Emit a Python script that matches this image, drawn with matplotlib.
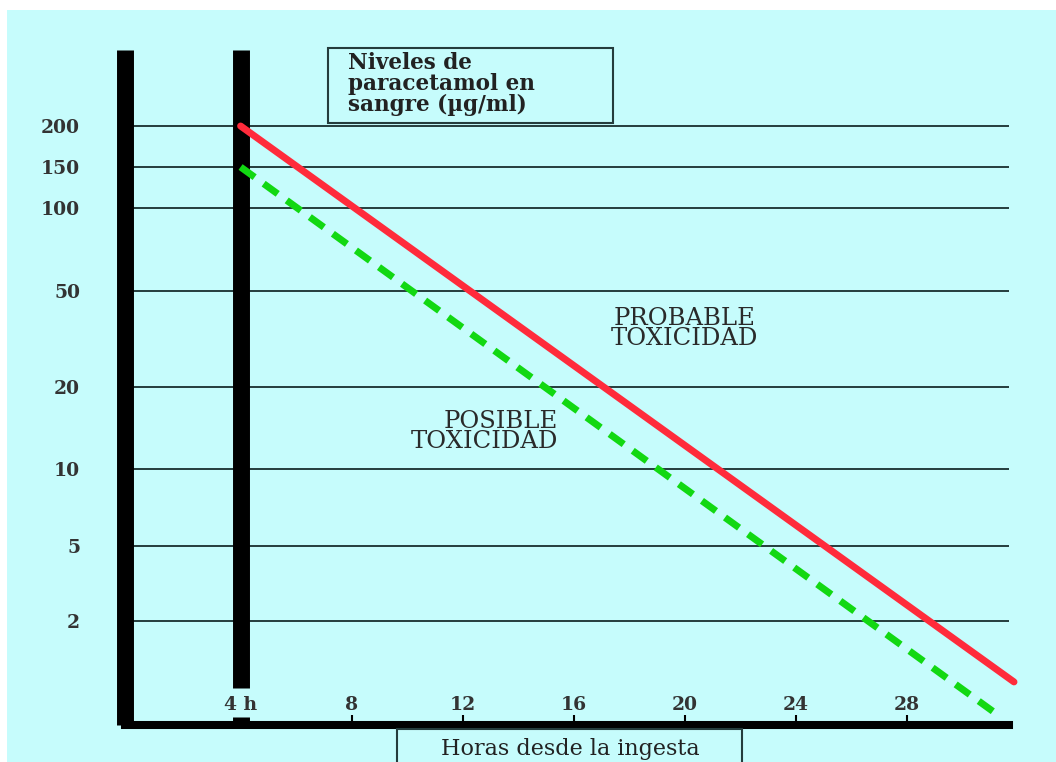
import numpy as np
import matplotlib.pyplot as plt
from matplotlib.patches import Rectangle
from matplotlib.ticker import NullLocator

plt.rcParams['font.family'] = ['DejaVu Serif']

# escala vertical del nomograma (esquematica, no es log puro)
niveles = [2, 5, 10, 20, 50, 100, 150, 200]
etiquetas_y = ['2', '5', '10', '20', '50', '100', '150', '200']
niveles_alto = [104, 179, 256, 338, 434, 517, 558, 599]   # altura (px) sobre el eje x

horas = [4, 8, 12, 16, 20, 24, 28]
etiquetas_x = ['4 h', '8', '12', '16', '20', '24', '28']

# lineas del nomograma
horas_prob = [4, 31.85]
nivel_prob = [200, 0.95]
horas_pos = [4, 31.3]
nivel_pos = [150, 0.63]

W, H = 1056, 762
cian = '#c6fcfc'
oscuro = '#243c3c'

lv = np.log10(niveles)
hv = np.array(niveles_alto, float)
s_lo = (hv[1] - hv[0]) / (lv[1] - lv[0])
s_hi = (hv[-1] - hv[-2]) / (lv[-1] - lv[-2])


def fwd(v):
    x = np.log10(np.maximum(np.asarray(v, float), 1e-9))
    y = np.interp(x, lv, hv)
    y = np.where(x < lv[0], hv[0] + (x - lv[0]) * s_lo, y)
    y = np.where(x > lv[-1], hv[-1] + (x - lv[-1]) * s_hi, y)
    return y


def inv(y):
    y = np.asarray(y, float)
    x = np.interp(y, hv, lv)
    x = np.where(y < hv[0], lv[0] + (y - hv[0]) / s_lo, x)
    x = np.where(y > hv[-1], lv[-1] + (y - hv[-1]) / s_hi, x)
    return 10 ** x


def fx(px):
    return px / W


def fy(py):
    return 1 - py / H


fig = plt.figure(figsize=(W / 100, H / 100), dpi=100, facecolor='white')
fig.patches.append(Rectangle((fx(7), 0), 1 - fx(7), fy(10), transform=fig.transFigure,
                             facecolor=cian, edgecolor='none', zorder=-10))

ax = fig.add_axes([fx(124.5), fy(725), (1009 - 124.5) / W, (725 - 50) / H])
ax.patch.set_visible(False)

ax.set_yscale('function', functions=(fwd, inv))
ax.set_ylim(float(inv(0)), float(inv(675)))
ax.set_xlim(-0.18, 31.67)

ax.spines['top'].set_visible(False)
ax.spines['right'].set_visible(False)
ax.spines['left'].set_linewidth(12.2)
ax.spines['left'].set_capstyle('butt')
ax.spines['bottom'].set_linewidth(5.8)
ax.spines['bottom'].set_capstyle('projecting')

ax.set_yticks(niveles, etiquetas_y)
ax.yaxis.set_minor_locator(NullLocator())
ax.tick_params(axis='y', length=0, pad=32, labelsize=13.5, labelcolor='#333333')
ax.set_xticks(horas, etiquetas_x)
ax.xaxis.set_minor_locator(NullLocator())
ax.tick_params(axis='x', direction='in', length=7, width=1.5, pad=-21,
               labelsize=13.5, labelcolor='#333333')
t0 = ax.xaxis.get_major_ticks()[0]
t0.tick1line.set_markeredgewidth(12.2)
t0.tick1line.set_markersize(5.5)
for lab in ax.get_xticklabels() + ax.get_yticklabels():
    lab.set_fontweight('bold')

ax.grid(axis='y', color=oscuro, lw=1.4)
ax.set_axisbelow(True)

# barra vertical de las 4 h
ax.axvline(4, ymin=37 / 675, ymax=1, color='black', lw=12.2, solid_capstyle='butt', zorder=2)

ax.plot(horas_prob, nivel_prob, color='#ff2b3b', lw=5, solid_capstyle='round',
        clip_on=False, zorder=4)
ax.plot(horas_pos, nivel_pos, color='#12d812', lw=5, ls=(0, (2.5, 1.6)),
        clip_on=False, zorder=3)

ax.text(20, 35, 'PROBABLE\nTOXICIDAD', ha='center', va='center', fontsize=17.5,
        linespacing=0.85, color='#2a2a2a', multialignment='center')
ax.text(15.43, 13.7, 'POSIBLE\nTOXICIDAD', ha='right', va='center', fontsize=17.5,
        linespacing=0.85, color='#2a2a2a', multialignment='right')

# recuadro del titulo
fig.patches.append(Rectangle((fx(328), fy(123)), (613 - 328) / W, (123 - 48) / H,
                             transform=fig.transFigure, facecolor=cian,
                             edgecolor=oscuro, lw=1.5, zorder=5))
fig.text(fx(348), fy(52), 'Niveles de\nparacetamol en\nsangre (\u00b5g/ml)', ha='left', va='top',
         fontsize=15.5, fontweight='bold', linespacing=0.95, color='#222222', zorder=6)

# recuadro del eje x
fig.patches.append(Rectangle((fx(397), fy(780)), (742 - 397) / W, (780 - 729) / H,
                             transform=fig.transFigure, facecolor=cian,
                             edgecolor=oscuro, lw=1.5, zorder=5))
fig.text(fx(570), fy(749), 'Horas desde la ingesta', ha='center', va='center',
         fontsize=16, color='#222222', zorder=6)

fig.savefig('out.png', dpi=100)
